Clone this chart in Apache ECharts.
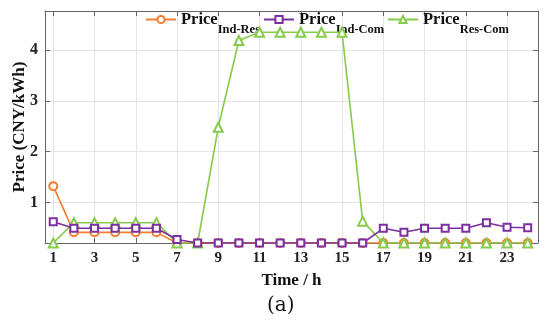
<!DOCTYPE html>
<html><head><meta charset="utf-8">
<script src="https://cdn.jsdelivr.net/npm/echarts@6/dist/echarts.min.js"></script>
<style>html,body{margin:0;padding:0;background:#fff}#c{width:550px;height:325px}</style>
</head><body><div id="c"></div>
<script>
const hours = [1,2,3,4,5,6,7,8,9,10,11,12,13,14,15,16,17,18,19,20,21,22,23,24];
const priceIndRes = [1.32,0.41,0.41,0.41,0.41,0.41,0.2,0.2,0.2,0.2,0.2,0.2,0.2,0.2,0.2,0.2,0.2,0.2,0.2,0.2,0.2,0.2,0.2,0.2];
const priceIndCom = [0.62,0.49,0.49,0.49,0.49,0.49,0.27,0.2,0.2,0.2,0.2,0.2,0.2,0.2,0.2,0.2,0.49,0.41,0.49,0.49,0.49,0.6,0.51,0.5];
const priceResCom = [0.2,0.6,0.6,0.6,0.6,0.6,0.2,0.2,2.48,4.19,4.35,4.35,4.35,4.35,4.35,0.63,0.2,0.2,0.2,0.2,0.2,0.2,0.2,0.2];
const xTicks = [1,3,5,7,9,11,13,15,17,19,21,23];
const yTicks = [1,2,3,4];
const seriesNames = ['Ind-Res','Ind-Com','Res-Com'];

const F = '"Liberation Serif","Times New Roman",serif';
const colors = ['#F37E2C','#7B2FA0','#86CB4C'];
const symbols = ['emptyCircle','emptyRect','emptyTriangle'];
const symSizes = [8,7,9];
const dataSets = [priceIndRes, priceIndCom, priceResCom];

const chart = echarts.init(document.getElementById('c'));
const axisLineStyle = {color:'#666', width:1};
function mkLegend(i, left){
  return {
    show:true, data:[seriesNames[i]], left:left, top:11, itemWidth:30, itemHeight:9, padding:0, itemGap:4,
    formatter: n => '{a|Price}{b|' + n + '}',
    textStyle:{ rich:{
      a:{fontFamily:F, fontWeight:'bold', fontSize:16.5, color:'#111'},
      b:{fontFamily:F, fontWeight:'bold', fontSize:12.5, color:'#111', padding:[20,0,0,0]}
    }},
    itemStyle:{borderWidth:1.5}
  };
}
const series = dataSets.map((d,i)=>({
  name: seriesNames[i], type:'line',
  data: hours.map((h,k)=>[h,d[k]]),
  symbol: symbols[i], symbolSize: symSizes[i],
  lineStyle:{color:colors[i], width:1.6},
  itemStyle:{color:colors[i], borderWidth:1.5},
  z: 2+i, animation:false
}));
series[1].z = 5;
chart.setOption({
  animation:false,
  grid:{left:45, right:12, top:11, bottom:82, show:false, outerBoundsMode:'none', containLabel:false},
  legend:[mkLegend(0,145), mkLegend(1,263), mkLegend(2,387)],
  xAxis:[{
    type:'value', min:0.6, max:24.5, position:'bottom',
    name:'Time / h', nameLocation:'middle', nameGap:29, nameMoveOverlap:false,
    nameTextStyle:{fontFamily:F, fontWeight:'bold', fontSize:17, color:'#111'},
    axisLine:{show:true, onZero:false, lineStyle:axisLineStyle},
    axisTick:{show:true, inside:true, length:5, customValues:xTicks, lineStyle:axisLineStyle},
    axisLabel:{customValues:xTicks, fontFamily:F, fontWeight:'bold', fontSize:15, color:'#222', margin:8},
    splitLine:{show:true, lineStyle:{color:'#e4e4e4', width:1}}
  },{
    type:'value', min:0.6, max:24.5, position:'top',
    axisLine:{show:true, onZero:false, lineStyle:axisLineStyle},
    axisTick:{show:true, inside:true, length:5, customValues:xTicks, lineStyle:axisLineStyle},
    axisLabel:{show:false}, splitLine:{show:false}
  }],
  yAxis:[{
    type:'value', min:0.2, max:4.77, position:'left',
    name:'Price (CNY/kWh)', nameLocation:'middle', nameGap:17, nameMoveOverlap:false,
    nameTextStyle:{fontFamily:F, fontWeight:'bold', fontSize:17, color:'#111'},
    axisLine:{show:true, onZero:false, lineStyle:axisLineStyle},
    axisTick:{show:true, inside:true, length:5, customValues:yTicks, lineStyle:axisLineStyle},
    axisLabel:{customValues:yTicks, fontFamily:F, fontWeight:'bold', fontSize:16, color:'#222', margin:7},
    splitLine:{show:true, lineStyle:{color:'#e4e4e4', width:1}}
  },{
    type:'value', min:0.2, max:4.77, position:'right',
    axisLine:{show:true, onZero:false, lineStyle:axisLineStyle},
    axisTick:{show:true, inside:true, length:5, customValues:yTicks, lineStyle:axisLineStyle},
    axisLabel:{show:false}, splitLine:{show:false}
  }],
  graphic:[{type:'text', left:267, top:296, style:{text:'(a)', fontFamily:'"DejaVu Serif",serif', fontSize:20, fill:'#111'}}],
  series: series
});
</script></body></html>
